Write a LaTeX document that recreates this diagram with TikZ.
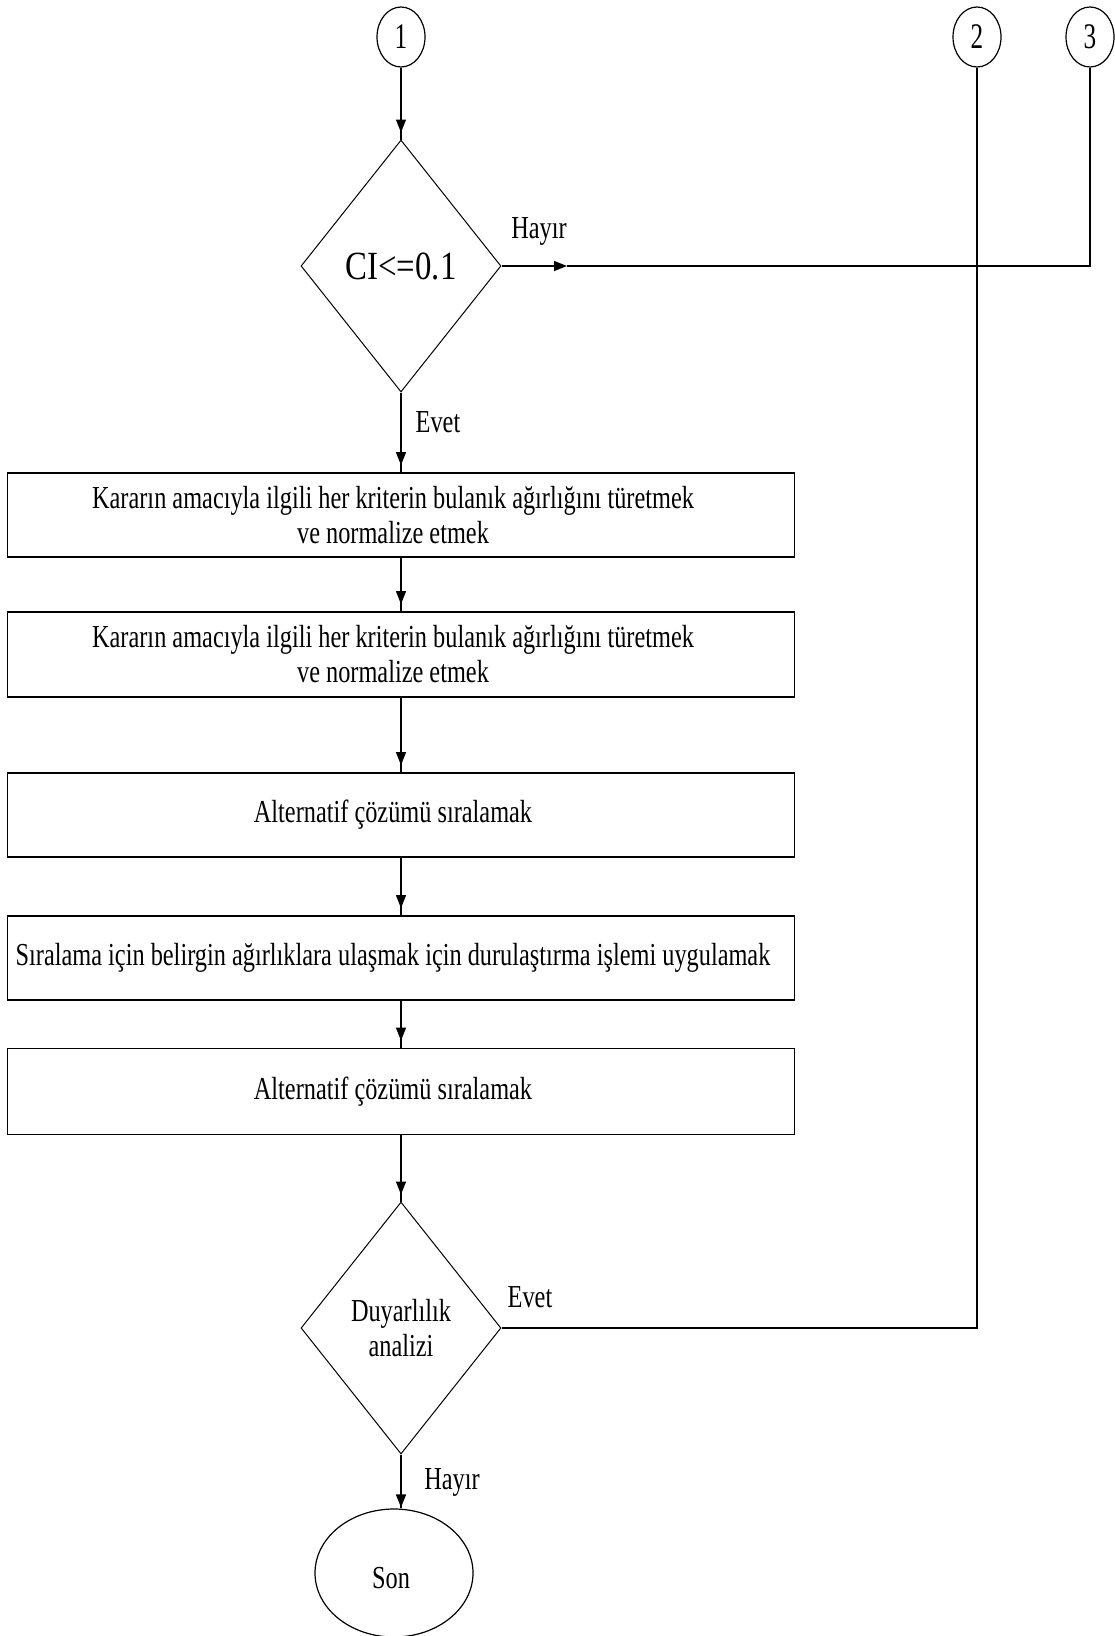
\documentclass[tikz,border=0pt]{standalone}
\usepackage{fontspec}
\setmainfont{Liberation Serif}
% narrow, tall serif faces used throughout the chart
\newfontfamily\tallserif[FakeStretch=0.76]{Liberation Serif}
\newfontfamily\condserif[FakeStretch=0.82]{Liberation Serif}
\newfontfamily\digitserif[FakeStretch=0.70]{Liberation Serif}
\usetikzlibrary{shapes.geometric,arrows.meta,decorations.markings}
\begin{document}
\begin{tikzpicture}[x=1pt,y=-1pt,
  every node/.style={inner sep=0pt, font=\tallserif\fontsize{32}{35}\selectfont},
  conn/.style={draw, ellipse, line width=1.2pt, minimum width=48pt, minimum height=60pt,
               font=\digitserif\fontsize{36}{36}\selectfont},
  stepbox/.style={draw, rectangle, line width=1.8pt, minimum width=787pt},
  steptext/.style={align=center},
  decide/.style={draw, diamond, line width=1pt, minimum width=200pt, minimum height=252pt, align=center},
  terminal/.style={draw, ellipse, line width=1.2pt, minimum width=158pt, minimum height=128pt},
  line/.style={line width=1.4pt},
  flow/.style={line, postaction={decorate}, decoration={markings,
               mark=at position -#1 with {\arrow{Triangle[length=13pt,width=10pt]}}}},
  flow/.default=7pt,
  tag/.style={font=\tallserif\fontsize{32}{32}\selectfont}
]
\useasboundingbox (0,0) rectangle (1115,1636);

% off-page connectors
\node[conn] (c1) at (401,37) {1};
\node[conn] (c2) at (977,37) {2};
\node[conn] (c3) at (1090,37) {3};

% consistency check
\node[decide, font=\condserif\fontsize{40}{40}\selectfont] (d1) at (401,266) {CI<=0.1};

% process steps
\node[stepbox, minimum height=84pt] (b1) at (401,515) {};
\node[steptext] (t1) at ([xshift=-8pt]b1.center)
  {Kararın amacıyla ilgili her kriterin bulanık ağırlığını türetmek\\ve normalize etmek};
\node[stepbox, minimum height=85pt] (b2) at (401,654.5) {};
\node[steptext] (t2) at ([xshift=-8pt]b2.center)
  {Kararın amacıyla ilgili her kriterin bulanık ağırlığını türetmek\\ve normalize etmek};
\node[stepbox, minimum height=84pt] (b3) at (401,815) {};
\node[steptext] (t3) at ([xshift=-8pt]b3.center) {Alternatif çözümü sıralamak};
\node[stepbox, minimum height=84pt] (b4) at (401,958) {};
\node[steptext] (t4) at ([xshift=-8pt]b4.center)
  {Sıralama için belirgin ağırlıklara ulaşmak için durulaştırma işlemi uygulamak};
\node[stepbox, minimum height=86pt] (b5) at (401,1091.5) {};
\node[steptext] (t5) at ([xshift=-8pt]b5.center) {Alternatif çözümü sıralamak};

% sensitivity analysis and end
\node[decide] (d2) at (401,1328) {Duyarlılık\\analizi};
\node[terminal] (son) at (394,1573) {};
\node (sontext) at (391,1578) {Son};

% branch labels
\node[tag] (hayir1) at (539,231) {Hayır};
\node[tag] (evet1) at (438,422) {Evet};
\node[tag] (evet2) at (530,1297) {Evet};
\node[tag] (hayir2) at (452,1482) {Hayır};

% main flow
\draw[flow] (c1.south) -- (d1.north);
\draw[flow] (d1.south) -- (b1.north);
\draw[flow] (b1.south) -- (b2.north);
\draw[flow] (b2.south) -- (b3.north);
\draw[flow] (b3.south) -- (b4.north);
\draw[flow] (b4.south) -- (b5.north);
\draw[flow] (b5.south) -- (d2.north);
\draw[flow=1pt] (d2.south) -- (d2.south |- son.north);

% "no" branch of the consistency check goes to connector 3
\coordinate (hayirTip) at (567,266);
\draw[line, -{Triangle[length=13pt,width=10pt]}] (d1.east) -- (hayirTip);
\draw[line] (hayirTip) -- (c3.south |- d1.east) -- (c3.south);

% "yes" branch of the sensitivity analysis goes to connector 2
\draw[line] (d2.east) -- (c2.south |- d2.east) -- (c2.south);
\end{tikzpicture}
\end{document}
